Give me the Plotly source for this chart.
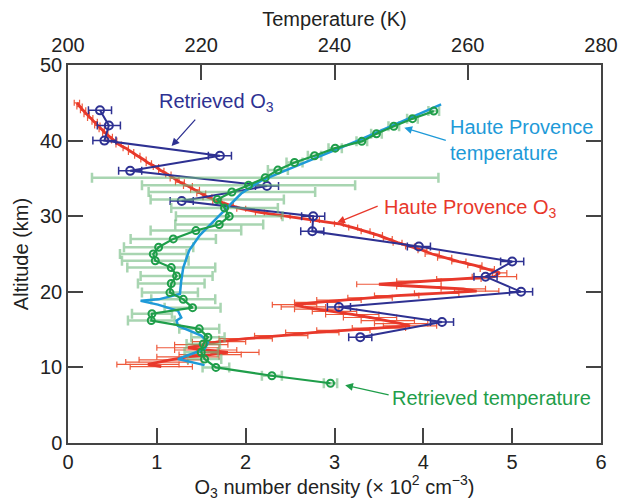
import plotly.graph_objects as go

# ---------------- data ----------------
# Haute Provence O3 (lidar), number density x10^2 cm^-3 vs altitude (km)
hp_o3_alt = [45.0, 44.5, 44.0, 43.5, 43.0, 42.5, 42.0, 41.5, 41.0, 40.5, 40.0, 39.5, 39.0, 38.5,
             38.0, 37.5, 37.0, 36.5, 36.0, 35.5, 35.0, 34.5, 34.0, 33.5, 33.0, 32.5, 32.0, 31.5,
             31.0, 30.5, 30.0, 29.5, 29.0, 28.5, 28.0, 27.5, 27.0, 26.5, 26.0, 25.5, 25.0, 24.5,
             24.0, 23.5, 23.0, 22.5, 22.0, 21.7, 21.4, 21.0, 20.7, 20.4, 20.1, 19.8, 19.5, 19.2,
             18.9, 18.6, 18.3, 18.0, 17.7, 17.4, 17.0, 16.6, 16.2, 15.8, 15.5, 15.2, 14.9, 14.6,
             14.2, 13.8, 13.4, 13.0, 12.6, 12.3, 12.0, 11.7, 11.4, 11.0, 10.7, 10.4, 10.1]
hp_o3_val = [0.10, 0.13, 0.17, 0.21, 0.25, 0.30, 0.33, 0.38, 0.42, 0.47, 0.52, 0.57, 0.65, 0.71,
             0.78, 0.85, 0.91, 0.99, 1.05, 1.13, 1.20, 1.26, 1.35, 1.43, 1.50, 1.57, 1.68, 1.81,
             1.95, 2.16, 2.45, 2.78, 3.05, 3.21, 3.35, 3.49, 3.60, 3.71, 3.85, 3.99, 4.10, 4.24,
             4.40, 4.58, 4.72, 4.86, 4.80, 4.40, 3.95, 3.50, 3.95, 4.45, 4.60, 4.15, 3.70, 3.40,
             3.05, 2.80, 2.55, 2.65, 2.80, 3.00, 3.20, 3.40, 3.60, 3.75, 3.85, 3.50, 3.10, 2.75,
             2.40, 2.00, 1.70, 1.50, 1.35, 1.55, 1.80, 1.60, 1.35, 1.15, 1.00, 0.90, 1.05]
hp_o3_err = [0.03] * 20 + [0.05] * 20 + [0.08] * 6 + [0.25] * 16 + [0.30] * 12 + [0.35] * 9

# Retrieved O3
ret_o3_alt = [44, 42, 40, 38, 36, 34, 32, 30, 28, 26, 24, 22, 20, 18, 16, 14]
ret_o3_val = [0.36, 0.46, 0.41, 1.71, 0.70, 2.24, 1.28, 2.76, 2.75, 3.95, 5.00, 4.70, 5.10, 3.05, 4.21, 3.29]
ret_o3_err = [0.13] * 16

# Haute Provence temperature (K)
hp_t_alt = [44.8, 40.0, 36.0, 34.7, 33.0, 31.0, 29.0, 27.5, 25.5, 23.2, 21.5, 19.7, 19.0, 18.8,
            18.3, 17.5, 16.6, 16.2, 15.5, 14.2, 13.3, 12.4, 11.6, 11.1, 10.3]
hp_t_val = [256.0, 243.5, 232.5, 229.0, 226.0, 223.8, 221.5, 219.8, 218.2, 217.3, 217.0, 216.8,
            213.6, 210.9, 213.5, 216.5, 217.0, 216.3, 216.5, 220.0, 221.0, 220.5, 218.0, 216.5, 220.5]

# Retrieved temperature (K)
ret_t_alt = [43.9, 42.9, 41.9, 40.9, 39.9, 39.0, 38.0, 37.1, 36.1, 35.1, 34.1, 33.2, 32.2, 31.1,
             30.0, 28.9, 28.1, 27.0, 25.9, 25.0, 24.1, 23.2, 22.1, 21.1, 19.9, 19.0, 17.9, 17.1,
             16.2, 15.1, 14.0, 13.1, 12.0, 11.1, 10.0, 8.9, 7.9]
ret_t_val = [254.9, 251.7, 248.9, 246.3, 244.1, 240.1, 237.0, 234.0, 231.5, 229.6, 227.1, 224.6,
             222.4, 223.5, 224.2, 222.7, 219.2, 215.8, 213.6, 212.8, 213.1, 215.5, 216.3, 215.5,
             215.3, 217.3, 218.7, 212.6, 212.5, 219.7, 221.0, 220.3, 220.0, 220.5, 222.2, 230.6, 239.4]
ret_t_err = [0.8, 0.8, 0.8, 0.8, 0.8, 1.0, 1.0, 1.2, 1.5, 26.0, 16.0, 12.5, 10.0, 8.0, 8.0, 6.6,
             6.8, 6.4, 5.2, 5.0, 5.0, 6.6, 5.4, 5.0, 4.2, 4.8, 4.2, 3.0, 3.5, 3.0, 2.5, 2.5, 2.5,
             2.5, 2.0, 1.5, 1.0]

NAVY = '#2e3192'
LBLUE = '#1e9ad8'
RED = '#e8382b'
GREEN = '#1f9e4a'
AX = '#444444'
FONT = 'Liberation Sans, Arial, Helvetica, sans-serif'
FS = 20

fig = go.Figure()

# O3 traces (bottom axis)
fig.add_trace(go.Scatter(
    x=hp_o3_val, y=hp_o3_alt, mode='lines', xaxis='x', yaxis='y',
    line=dict(color=RED, width=2.8),
    error_x=dict(type='data', array=hp_o3_err, color='#ee5a3c', thickness=1.2, width=3)))
fig.add_trace(go.Scatter(
    x=ret_o3_val, y=ret_o3_alt, mode='lines+markers', xaxis='x', yaxis='y',
    line=dict(color=NAVY, width=2),
    marker=dict(symbol='circle-open', size=8, color=NAVY, line=dict(width=2)),
    error_x=dict(type='data', array=ret_o3_err, color=NAVY, thickness=1.5, width=4)))

# Temperature traces (top axis)
fig.add_trace(go.Scatter(
    x=ret_t_val, y=ret_t_alt, mode='markers', xaxis='x2', yaxis='y',
    marker=dict(size=1, color='rgba(0,0,0,0)'),
    error_x=dict(type='data', array=ret_t_err, color='rgba(110,185,125,0.6)', thickness=2.5, width=5)))
fig.add_trace(go.Scatter(
    x=hp_t_val, y=hp_t_alt, mode='lines', xaxis='x2', yaxis='y',
    line=dict(color=LBLUE, width=2.5)))
fig.add_trace(go.Scatter(
    x=ret_t_val, y=ret_t_alt, mode='lines+markers', xaxis='x2', yaxis='y',
    line=dict(color=GREEN, width=2.2),
    marker=dict(symbol='circle-open', size=7, color=GREEN, line=dict(width=2))))

axis_common = dict(showline=True, linecolor=AX, linewidth=1.5, ticks='inside', ticklen=15,
                   tickwidth=1.5, tickcolor=AX, showgrid=False, zeroline=False,
                   tickfont=dict(family=FONT, size=FS, color='#222'))

fig.update_layout(
    width=630, height=501,
    margin=dict(l=68, r=20, t=65, b=55),
    plot_bgcolor='white', paper_bgcolor='white',
    showlegend=False,
    font=dict(family=FONT, size=FS, color='#222'),
    xaxis=dict(range=[0, 6], dtick=1, tick0=0,
               title=dict(text='O<sub>3</sub> number density (×&nbsp;10<sup>2</sup> cm<sup>−3</sup>)',
                          font=dict(family=FONT, size=FS, color='#222'), standoff=2),
               **axis_common),
    xaxis2=dict(range=[200, 280], dtick=20, tick0=200, overlaying='x', side='top',
                ticklabelstandoff=3,
                title=dict(text='Temperature (K)', font=dict(family=FONT, size=FS, color='#222'), standoff=2),
                **axis_common),
    yaxis=dict(range=[0, 50], dtick=10, tick0=0, mirror='ticks',
               title=dict(text='Altitude (km)', font=dict(family=FONT, size=FS, color='#222'), standoff=6),
               **axis_common),
)

ann = []
# arrows
ann.append(dict(x=1.166, y=39.27, xref='x', yref='y', ax=25, ay=-28, text='', showarrow=True,
                arrowhead=2, arrowsize=1.2, arrowwidth=1.3, arrowcolor=NAVY))
ann.append(dict(x=3.786, y=41.7, xref='x', yref='y', ax=43, ay=13, text='', showarrow=True,
                arrowhead=2, arrowsize=1.2, arrowwidth=1.3, arrowcolor=LBLUE))
ann.append(dict(x=3.03, y=29.16, xref='x', yref='y', ax=42, ay=-17, text='', showarrow=True,
                arrowhead=2, arrowsize=1.2, arrowwidth=1.3, arrowcolor=RED))
ann.append(dict(x=3.12, y=7.65, xref='x', yref='y', ax=45, ay=10, text='', showarrow=True,
                arrowhead=2, arrowsize=1.2, arrowwidth=1.3, arrowcolor=GREEN))
# labels
ann.append(dict(x=1.0, y=45.0, xref='x', yref='y', xanchor='left', yanchor='middle', showarrow=False,
                text='Retrieved O<sub>3</sub>', font=dict(family=FONT, size=FS, color=NAVY)))
ann.append(dict(x=4.28, y=40.1, xref='x', yref='y', xanchor='left', yanchor='middle', showarrow=False,
                align='left', text='Haute Provence<br>temperature', font=dict(family=FONT, size=FS, color=LBLUE)))
ann.append(dict(x=3.54, y=31.0, xref='x', yref='y', xanchor='left', yanchor='middle', showarrow=False,
                text='Haute Provence O<sub>3</sub>', font=dict(family=FONT, size=FS, color=RED)))
ann.append(dict(x=3.63, y=5.94, xref='x', yref='y', xanchor='left', yanchor='middle', showarrow=False,
                text='Retrieved temperature', font=dict(family=FONT, size=FS, color=GREEN)))
fig.update_layout(annotations=ann)

fig.write_html('out.html')
